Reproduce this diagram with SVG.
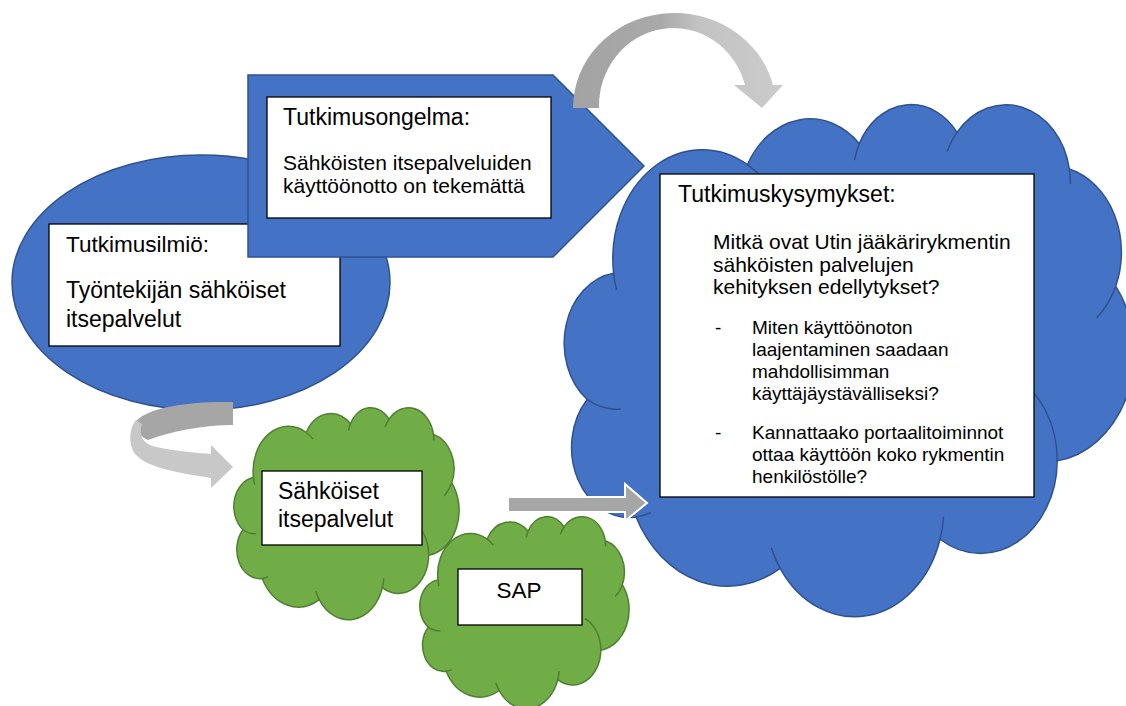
<svg xmlns="http://www.w3.org/2000/svg" xmlns:xlink="http://www.w3.org/1999/xlink" width="1126" height="706" viewBox="0 0 1126 706">
<style>
.blue{fill:#4472C4;stroke:#2F528F;stroke-width:1.5}
.green{fill:#70AD47;stroke:#507E32;stroke-width:1.5}
.cbl{fill:none;stroke:#2F528F;stroke-width:1.5}
.cgr{fill:none;stroke:#507E32;stroke-width:1.5}
.box{fill:#fff;stroke:#000;stroke-width:1.3}
.t{font-family:"Liberation Sans",Arial,sans-serif;fill:#000}
.grey{fill:#A6A6A6}
</style>
<defs>
<path id="cloudP" vector-effect="non-scaling-stroke" d="M3900,14370 A6753,9190 0 0 1 14004,5200 A5333,7267 0 0 1 22455,3430 A4365,5945 0 0 1 29832,2478 A4857,6595 0 0 1 38317,5572 A5333,7273 0 0 1 41818,15456 A6775,9220 0 0 1 37402,30196 A5785,7867 0 0 1 28553,36807 A6752,9215 0 0 1 16478,39259 A7720,10543 0 0 1 5592,34935 A4360,5918 0 0 1 1901,25012 A4345,5945 0 0 1 3900,14370 Z"/>
<path id="cloudC" vector-effect="non-scaling-stroke" d="M4126,15788 A6753,9190 0 0 1 3900,14370 M14004,5200 A6753,9190 0 0 1 15305,6550 M22096,4820 A4365,5945 0 0 1 22455,3430 M29090,4090 A4857,6595 0 0 1 29832,2478 M38317,5572 A4857,6595 0 0 1 38394,6836 M41818,15456 A5333,7273 0 0 1 40369,18133 M34151,23061 A5785,7867 0 0 1 37402,30196 M28820,34897 A6752,9215 0 0 1 28553,36807 M16478,39259 A6752,9215 0 0 1 15810,37518 M6701,34553 A4360,5918 0 0 1 5592,34935 M4435,25810 A4345,5945 0 0 1 1901,25012"/>
<linearGradient id="gTop" gradientUnits="userSpaceOnUse" x1="573" y1="0" x2="783" y2="0">
<stop offset="0" stop-color="#A3A3A3"/>
<stop offset="0.42" stop-color="#A9A9A9"/>
<stop offset="0.6" stop-color="#C3C3C3"/>
<stop offset="1" stop-color="#CBCBCB"/>
</linearGradient>
</defs>

<g id="node-ilmio">
<ellipse class="blue" cx="201" cy="282.5" rx="189" ry="127.5"/>
<rect class="box" x="49" y="224" width="291" height="122"/>
<text class="t" x="66" y="252" font-size="22.5">Tutkimusilmiö:</text>
<text class="t" x="66" y="298" font-size="23">Työntekijän sähköiset</text>
<text class="t" x="66" y="327" font-size="23">itsepalvelut</text>
</g>

<g id="node-ongelma">
<polygon class="blue" points="248,75 553,75 644,166 553,257 248,257"/>
<rect class="box" x="267" y="97" width="284" height="121"/>
<text class="t" x="283" y="125" font-size="23">Tutkimusongelma:</text>
<text class="t" x="283" y="170" font-size="21">Sähköisten itsepalveluiden</text>
<text class="t" x="283" y="193" font-size="21">käyttöönotto on tekemättä</text>
</g>

<g id="node-kysymykset">
<g transform="translate(562,103) scale(0.0132407,0.0118519)">
<use xlink:href="#cloudP" class="blue"/>
<use xlink:href="#cloudC" class="cbl"/>
</g>
<rect class="box" x="660" y="174" width="374" height="323"/>
<text class="t" x="678" y="202" font-size="23">Tutkimuskysymykset:</text>
<text class="t" x="713" y="249" font-size="21">Mitkä ovat Utin jääkärirykmentin</text>
<text class="t" x="713" y="271.5" font-size="21">sähköisten palvelujen</text>
<text class="t" x="713" y="294" font-size="21">kehityksen edellytykset?</text>
<text class="t" x="715" y="334" font-size="19">-</text>
<text class="t" x="752" y="334" font-size="19">Miten käyttöönoton</text>
<text class="t" x="752" y="356" font-size="19">laajentaminen saadaan</text>
<text class="t" x="752" y="378" font-size="19">mahdollisimman</text>
<text class="t" x="752" y="399.5" font-size="19">käyttäjäystävälliseksi?</text>
<text class="t" x="715" y="438.5" font-size="19">-</text>
<text class="t" x="752" y="438.5" font-size="19">Kannattaako portaalitoiminnot</text>
<text class="t" x="752" y="461" font-size="19">ottaa käyttöön koko rykmentin</text>
<text class="t" x="752" y="482.5" font-size="19">henkilöstölle?</text>
</g>

<g id="node-sahkoiset">
<g transform="translate(233,407) scale(0.0052315,0.0049074)">
<use xlink:href="#cloudP" class="green"/>
<use xlink:href="#cloudC" class="cgr"/>
</g>
<rect class="box" x="262" y="471" width="160" height="74"/>
<text class="t" x="278" y="499" font-size="23">Sähköiset</text>
<text class="t" x="278" y="527" font-size="23">itsepalvelut</text>
</g>

<g id="node-sap">
<g transform="translate(419,516) scale(0.0048611,0.0044444)">
<use xlink:href="#cloudP" class="green"/>
<use xlink:href="#cloudC" class="cgr"/>
</g>
<rect class="box" x="458" y="569" width="124" height="56"/>
<text class="t" x="519" y="598" font-size="22.5" text-anchor="middle">SAP</text>
</g>

<g id="connectors">
<path id="arrow-top" fill="url(#gTop)" d="M573,108 A101.5,95 0 0 1 773,85 L783,85 L762,108 L734,85 L745,85 A74.4,78 0 0 0 599,108 Z"/>
<g id="arrow-uturn">
<path fill="#A6A6A6" d="M233,402 C195,401 150,406 136,421 C134,426 138,436 148,440 C170,432 200,425 233,425 Z"/>
<path fill="#C8C8C8" d="M136,420 C128,430 129,447 136,455 C148,468 180,473 211,478 L211,488 L233,467 L211,445 L211,454 C185,452 160,449 150,445 C141,441 139,432 142,424 Z"/>
</g>
<polygon id="arrow-straight" class="grey" stroke="#fff" stroke-width="2" points="508,497 625,497 625,484 647,503 625,521 625,512 508,512"/>
</g>
</svg>
